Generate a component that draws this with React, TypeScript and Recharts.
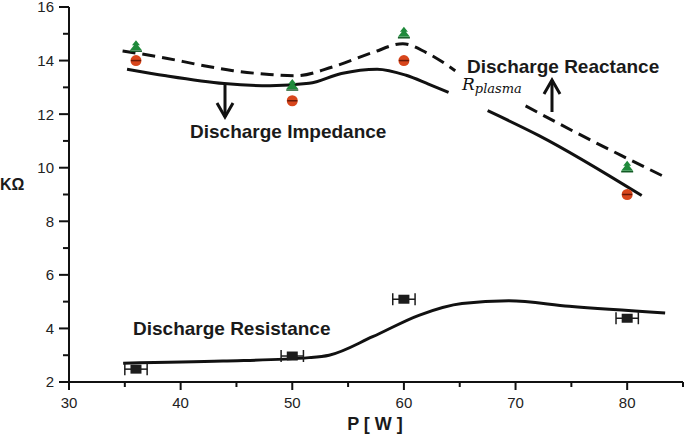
import React from 'react';
import { ComposedChart, Line, Scatter, XAxis, YAxis, ErrorBar } from 'recharts';

// axis ticks
const xTicks = [30, 35, 40, 45, 50, 55, 60, 65, 70, 75, 80, 85];
const yTicks = [2, 3, 4, 5, 6, 7, 8, 9, 10, 11, 12, 13, 14, 15, 16];

// measured points
const reactancePts = [
  { x: 36, y: 14.5 },
  { x: 50, y: 13.05 },
  { x: 60, y: 15.0 },
  { x: 80, y: 10.0 },
];
const impedancePts = [
  { x: 36, y: 14.0 },
  { x: 50, y: 12.5 },
  { x: 60, y: 14.0 },
  { x: 80, y: 9.0 },
];
const resistancePts = [
  { x: 36, y: 2.48, err: 1 },
  { x: 50, y: 2.97, err: 1 },
  { x: 60, y: 5.09, err: 1 },
  { x: 80, y: 4.38, err: 1 },
];

// fitted curves (null = gap behind the R_plasma label)
const reactanceFit = [
  { x: 34.8, y: 14.36 },
  { x: 38.7, y: 14.09 },
  { x: 41.7, y: 13.84 },
  { x: 44.7, y: 13.62 },
  { x: 47.7, y: 13.49 },
  { x: 50.3, y: 13.43 },
  { x: 53.6, y: 13.76 },
  { x: 57.2, y: 14.3 },
  { x: 59.9, y: 14.63 },
  { x: 62.0, y: 14.3 },
  { x: 64.6, y: 13.62 },
  { x: 67.5, y: null },
  { x: 70.9, y: 12.31 },
  { x: 75.1, y: 11.38 },
  { x: 79.5, y: 10.45 },
  { x: 83.3, y: 9.67 },
];
const impedanceFit = [
  { x: 35.2, y: 13.68 },
  { x: 38.7, y: 13.43 },
  { x: 43.9, y: 13.14 },
  { x: 48.0, y: 13.06 },
  { x: 51.5, y: 13.15 },
  { x: 54.4, y: 13.52 },
  { x: 57.6, y: 13.68 },
  { x: 60.2, y: 13.45 },
  { x: 62.2, y: 13.12 },
  { x: 64.0, y: 12.81 },
  { x: 65.8, y: null },
  { x: 67.5, y: 12.13 },
  { x: 72.1, y: 11.2 },
  { x: 81.3, y: 8.96 },
];
const resistanceFit = [
  { x: 34.85, y: 2.7 },
  { x: 43.8, y: 2.78 },
  { x: 51.5, y: 2.91 },
  { x: 53.3, y: 3.0 },
  { x: 57.2, y: 3.69 },
  { x: 61.4, y: 4.5 },
  { x: 65.2, y: 4.93 },
  { x: 69.4, y: 5.03 },
  { x: 74.8, y: 4.83 },
  { x: 83.4, y: 4.58 },
];

const AXIS = '#111';
const labelFont = '"Liberation Sans", Arial, sans-serif';

const YTick = (props: any) => {
  const { x, y, payload } = props;
  const major = payload.value % 2 === 0;
  return (
    <g>
      <line x1={x - (major ? 10 : 6)} x2={x} y1={y} y2={y} stroke={AXIS} strokeWidth={2} />
      {major && (
        <text x={x - 15} y={y} dy={5.4} textAnchor="end" fontSize={15} fill="#222" fontFamily={labelFont}>
          {payload.value}
        </text>
      )}
    </g>
  );
};

const XTick = (props: any) => {
  const { x, y, payload } = props;
  const major = payload.value % 10 === 0;
  return (
    <g>
      <line x1={x} x2={x} y1={y} y2={y + (major ? 8 : 5)} stroke={AXIS} strokeWidth={2} />
      {major && (
        <text x={x} y={y + 26} textAnchor="middle" fontSize={15} fill="#222" fontFamily={labelFont}>
          {payload.value}
        </text>
      )}
    </g>
  );
};

const GreenTree = (props: any) => {
  const { cx, cy } = props;
  return (
    <g>
      <polygon
        points={`${cx},${cy - 7} ${cx - 4},${cy - 2} ${cx - 2},${cy - 2} ${cx - 6},${cy + 3} ${cx + 6},${cy + 3} ${cx + 2},${cy - 2} ${cx + 4},${cy - 2}`}
        fill="#1f8a3b"
      />
      <line x1={cx - 6} x2={cx + 6} y1={cy + 4} y2={cy + 4} stroke="#135a25" strokeWidth={1.5} />
    </g>
  );
};

const RedDot = (props: any) => {
  const { cx, cy } = props;
  return (
    <g>
      <circle cx={cx} cy={cy} r={5.5} fill="#d8461c" />
      <line x1={cx - 5} x2={cx + 5} y1={cy} y2={cy} stroke="#6a1a08" strokeWidth={1.5} />
    </g>
  );
};

const BlackSquare = (props: any) => {
  const { cx, cy } = props;
  return <rect x={cx - 5.5} y={cy - 4.5} width={11} height={9} fill="#1c1c1c" />;
};

const Arrow = ({ x, y1, y2 }: { x: number; y1: number; y2: number }) => {
  const dir = y2 > y1 ? 1 : -1;
  return (
    <g stroke="#111" strokeWidth={3} fill="none">
      <line x1={x} x2={x} y1={y1} y2={y2} />
      <polyline points={`${x - 8},${y2 - dir * 14} ${x},${y2} ${x + 8},${y2 - dir * 14}`} />
    </g>
  );
};

const bigLabel = { fontFamily: labelFont, fontWeight: 700, fontSize: 19, fill: '#1a1a1a' };

export default function App() {
  return (
    <div style={{ position: 'absolute', left: 0, top: 0, width: 685, height: 442, background: '#fff' }}>
      <ComposedChart width={685} height={442} margin={{ top: 7, right: 2, bottom: 0, left: 0 }}>
        <XAxis
          type="number"
          dataKey="x"
          domain={[30, 85]}
          ticks={xTicks}
          interval={0}
          allowDataOverflow
          height={60}
          tickSize={0}
          tickMargin={0}
          tickLine={false}
          axisLine={{ stroke: AXIS, strokeWidth: 2 }}
          tick={<XTick />}
        />
        <YAxis
          type="number"
          domain={[2, 16]}
          ticks={yTicks}
          interval={0}
          allowDataOverflow
          width={69}
          tickSize={0}
          tickMargin={0}
          tickLine={false}
          axisLine={{ stroke: AXIS, strokeWidth: 2 }}
          tick={<YTick />}
        />
        <Line data={reactanceFit} dataKey="y" type="monotone" stroke="#111" strokeWidth={3} strokeDasharray="13 7" dot={false} isAnimationActive={false} />
        <Line data={impedanceFit} dataKey="y" type="monotone" stroke="#111" strokeWidth={3} dot={false} isAnimationActive={false} />
        <Line data={resistanceFit} dataKey="y" type="monotone" stroke="#111" strokeWidth={3} dot={false} isAnimationActive={false} />
        <Scatter data={resistancePts} dataKey="y" shape={<BlackSquare />} isAnimationActive={false}>
          <ErrorBar dataKey="err" direction="x" width={6} stroke="#1c1c1c" strokeWidth={1.5} />
        </Scatter>
        <Scatter data={reactancePts} dataKey="y" shape={<GreenTree />} isAnimationActive={false} />
        <Scatter data={impedancePts} dataKey="y" shape={<RedDot />} isAnimationActive={false} />
      </ComposedChart>
      <svg width={685} height={442} style={{ position: 'absolute', left: 0, top: 0, pointerEvents: 'none' }}>
        <text x={0} y={190} fontFamily={labelFont} fontWeight={700} fontSize={16} fill="#1a1a1a">KΩ</text>
        <text x={375} y={430} textAnchor="middle" fontFamily={'"Liberation Sans Narrow", "Liberation Sans", Arial, sans-serif'} fontWeight={700} fontSize={18} fill="#1a1a1a">
          P [ W ]
        </text>
        <text x={190} y={138} {...bigLabel}>Discharge Impedance</text>
        <text x={467} y={73} {...bigLabel}>Discharge Reactance</text>
        <text x={133} y={335} {...bigLabel}>Discharge Resistance</text>
        <Arrow x={225} y1={85} y2={117} />
        <Arrow x={552} y1={112} y2={80} />
        <text x={462} y={90} fontFamily={'"DejaVu Serif", "Liberation Serif", serif'} fontStyle="italic" fontSize={17} fill="#111">
          R
          <tspan fontSize={13} dy={3}>plasma</tspan>
        </text>
      </svg>
    </div>
  );
}
